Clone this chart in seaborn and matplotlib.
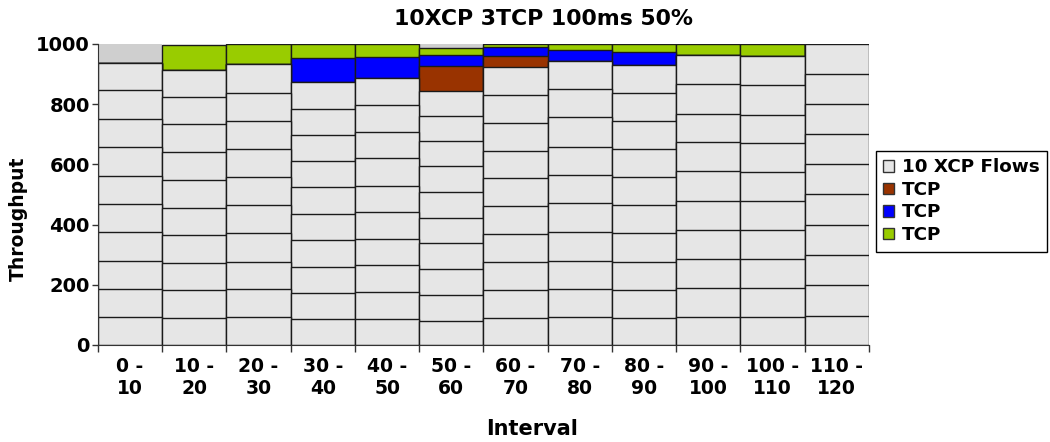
import numpy as np
import matplotlib
matplotlib.use("Agg")
import matplotlib.pyplot as plt
import seaborn as sns
from matplotlib.patches import Patch

# interval labels
intervals = ["0 -\n10", "10 -\n20", "20 -\n30", "30 -\n40", "40 -\n50", "50 -\n60",
             "60 -\n70", "70 -\n80", "80 -\n90", "90 -\n100", "100 -\n110", "110 -\n120"]

# throughput of the 10 XCP flows in each interval (bottom to top)
xcp_flows = [
    [93, 94, 93, 94, 93, 94, 97, 94, 94, 91],
    [89, 94, 91, 91, 90, 93, 93, 92, 92, 90],
    [93, 94, 90, 94, 93, 93, 94, 94, 93, 94],
    [85, 89, 86, 89, 86, 89, 87, 88, 86, 90],
    [85, 90, 90, 88, 89, 87, 91, 89, 89, 90],
    [81, 84, 86, 87, 85, 85, 86, 83, 84, 84],
    [89, 94, 94, 93, 91, 93, 92, 90, 95, 93],
    [93, 94, 93, 95, 96, 94, 94, 97, 94, 95],
    [89, 94, 93, 95, 93, 93, 94, 94, 93, 93],
    [94, 95, 98, 95, 97, 98, 97, 95, 98, 98],
    [94, 96, 95, 97, 96, 96, 96, 95, 98, 97],
    [96, 102, 101, 100, 102, 101, 98, 101, 98, 101],
]
tcp_red = [0, 0, 0, 0, 0, 82, 36, 0, 0, 0, 0, 0]
tcp_blue = [0, 0, 0, 77, 68, 36, 29, 35, 41, 0, 0, 0]
tcp_green = [0, 82, 68, 48, 44, 25, 11, 20, 28, 35, 40, 0]
unused = [63, 0, 0, 0, 0, 12, 0, 0, 0, 0, 0, 0]

c_xcp = "#e6e6e6"
c_red = "#993300"
c_blue = "#0000ff"
c_green = "#99cc00"
c_unused = "#cfcfcf"
edge = "#1a1a1a"

plt.rcParams["font.family"] = ["DejaVu Sans"]
plt.rcParams["font.weight"] = "bold"

# layers from bottom to top: (values, colour, edgecolour)
layers = []
flows = np.array(xcp_flows).T
for row in flows:
    layers.append((row, c_xcp, edge))
layers.append((np.array(tcp_red), c_red, edge))
layers.append((np.array(tcp_blue), c_blue, edge))
layers.append((np.array(tcp_green), c_green, edge))
layers.append((np.array(unused), c_unused, "none"))

cum = np.cumsum([l[0] for l in layers], axis=0)

fig = plt.figure(figsize=(10.5, 4.42), dpi=100)
ax = fig.add_axes([0.0933, 0.2195, 0.8276 - 0.0933, 0.9005 - 0.2195])

# draw stacked bars as overlapping cumulative bars, top layer first
for i in range(len(layers) - 1, -1, -1):
    _, col, ec = layers[i]
    sns.barplot(x=intervals, y=cum[i], color=col, saturation=1, width=1.0,
                edgecolor=ec, linewidth=1.0, ax=ax, zorder=2 + (len(layers) - i) * 0.01)

ax.set_ylim(0, 1000)
ax.set_xlim(-0.5, 11.5)
ax.set_yticks([0, 200, 400, 600, 800, 1000])
ax.tick_params(axis="y", labelsize=14, length=4, width=1, color="#333333", pad=2)
for t in ax.get_yticklabels():
    t.set_fontweight("bold")
ax.set_xticks(range(12))
ax.set_xticklabels(intervals, fontsize=13.5, fontweight="bold", linespacing=1.2)
ax.tick_params(axis="x", length=0, pad=9)
ax.set_xticks(np.arange(-0.5, 12, 1), minor=True)
ax.tick_params(axis="x", which="minor", length=5, width=1, color="#333333")

for s in ["top", "right"]:
    ax.spines[s].set_visible(False)
ax.spines["left"].set_color("#333333")
ax.spines["bottom"].set_color("#333333")

ax.set_ylabel("Throughput", fontsize=13.5, fontweight="bold")
ax.yaxis.set_label_coords(-0.091, 0.42)
ax.set_xlabel("Interval", fontsize=15, fontweight="bold")
ax.xaxis.set_label_coords(0.563, -0.245)
fig.text(0.518, 0.958, "10XCP 3TCP 100ms 50%", fontsize=15.8, fontweight="bold",
         ha="center", va="center")

handles = [Patch(facecolor=c_xcp, edgecolor="#333333", label="10 XCP Flows"),
           Patch(facecolor=c_red, edgecolor="#333333", label="TCP"),
           Patch(facecolor=c_blue, edgecolor="#333333", label="TCP"),
           Patch(facecolor=c_green, edgecolor="#333333", label="TCP")]
leg = fig.legend(handles=handles, loc="center left", bbox_to_anchor=(0.834, 0.545),
                 frameon=True, fancybox=False, edgecolor="black", framealpha=1,
                 prop={"size": 13.2, "weight": "bold"}, handlelength=0.6, handleheight=0.6,
                 handletextpad=0.4, labelspacing=0.25, borderpad=0.42, borderaxespad=0)
leg.get_frame().set_linewidth(1.0)

fig.savefig("out.png", dpi=100)
